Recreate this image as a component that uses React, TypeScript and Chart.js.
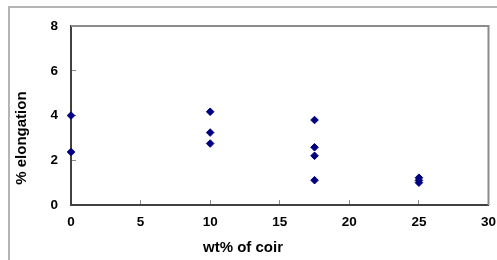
import React, { useEffect, useRef } from "react";
import { Chart, registerables } from "chart.js";

Chart.register(...registerables);

const coirWt0 = [0, 0];
const elong0 = [4.0, 2.37];
const coirWt10 = [10, 10, 10];
const elong10 = [4.17, 3.24, 2.75];
const coirWt175 = [17.5, 17.5, 17.5, 17.5];
const elong175 = [3.8, 2.58, 2.2, 1.11];
const coirWt25 = [25, 25, 25];
const elong25 = [1.22, 1.1, 1.0];

const xTitle = "wt% of coir";
const yTitle = "% elongation";
const xMin = 0, xMax = 30, xStep = 5;
const yMin = 0, yMax = 8, yStep = 2;

const FONT = "'Liberation Sans', Arial, sans-serif";

const xs = [...coirWt0, ...coirWt10, ...coirWt175, ...coirWt25];
const ys = [...elong0, ...elong10, ...elong175, ...elong25];
const points = xs.map((x, i) => ({ x, y: ys[i] }));

const framePlugin = {
  id: "frameAndTitles",
  beforeDatasetsDraw(chart: any) {
    const { ctx, chartArea } = chart;
    ctx.save();
    ctx.strokeStyle = "#8c8c8c";
    ctx.lineWidth = 2;
    ctx.beginPath();
    ctx.moveTo(chartArea.left, chartArea.top);
    ctx.lineTo(chartArea.right, chartArea.top);
    ctx.lineTo(chartArea.right, chartArea.bottom);
    ctx.stroke();
    ctx.restore();
  },
  afterDraw(chart: any) {
    const { ctx, chartArea } = chart;
    ctx.save();
    ctx.fillStyle = "#000";
    ctx.font = `bold 15px ${FONT}`;
    ctx.textAlign = "center";
    ctx.textBaseline = "middle";
    ctx.fillText(xTitle, chartArea.left + 172, chartArea.bottom + 43);
    ctx.translate(22, chartArea.top + 112);
    ctx.rotate(-Math.PI / 2);
    ctx.fillText(yTitle, 0, 0);
    ctx.restore();
  },
};

export default function App() {
  const ref = useRef<HTMLCanvasElement | null>(null);
  useEffect(() => {
    if (!ref.current) return;
    const chart = new Chart(ref.current, {
      type: "scatter",
      data: {
        datasets: [
          {
            data: points,
            backgroundColor: "#000080",
            borderColor: "#000080",
            borderWidth: 1,
            pointStyle: "rectRot",
            pointRadius: 3.8,
            clip: false,
          } as any,
        ],
      },
      options: {
        responsive: false,
        animation: false,
        layout: { padding: { top: 14.5, right: 20, left: 0, bottom: 0 } },
        plugins: { legend: { display: false }, tooltip: { enabled: false } },
        scales: {
          x: {
            type: "linear",
            min: xMin,
            max: xMax,
            ticks: {
              stepSize: xStep,
              color: "#000",
              font: { family: FONT, size: 13.5, weight: "bold" },
              padding: 14,
            },
            grid: { color: "transparent", tickColor: "#8c8c8c", tickLength: -5, tickWidth: 1 },
            border: { color: "#404040", width: 2 },
            afterFit: (s: any) => { s.height = 55; },
          },
          y: {
            type: "linear",
            min: yMin,
            max: yMax,
            ticks: {
              stepSize: yStep,
              color: "#000",
              font: { family: FONT, size: 13.5, weight: "bold" },
              padding: 18,
            },
            grid: { color: "transparent", tickColor: "#8c8c8c", tickLength: -5, tickWidth: 1 },
            border: { color: "#404040", width: 2 },
            afterFit: (s: any) => { s.width = 71; },
          },
        },
      } as any,
      plugins: [framePlugin],
    });
    return () => chart.destroy();
  }, []);

  return (
    <div style={{ position: "absolute", left: 0, top: 0, width: 497, height: 260, overflow: "hidden", background: "#fff" }}>
      <div
        style={{
          position: "absolute",
          left: 8,
          top: 6,
          width: 600,
          height: 400,
          borderLeft: "2px solid #b4b4b4",
          borderTop: "2px solid #b4b4b4",
        }}
      />
      <canvas ref={ref} width={510} height={260} style={{ position: "absolute", left: 0, top: 0 }} />
    </div>
  );
}
